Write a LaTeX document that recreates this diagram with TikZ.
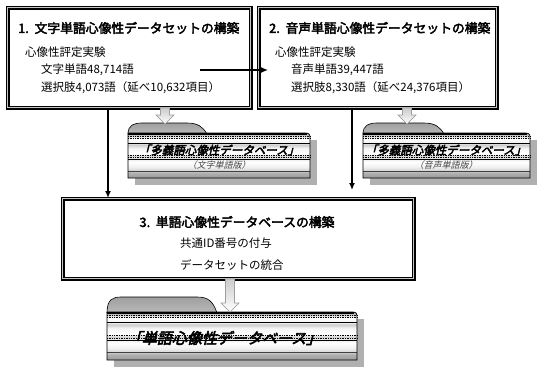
\documentclass[tikz,border=0pt]{standalone}
\usepackage{fontspec}
\setmainfont{Noto Sans CJK JP}
\newfontfamily\jpb{Noto Sans CJK JP}[FakeBold=3]
\newfontfamily\jpbi{Noto Sans CJK JP}[FakeBold=3.5,FakeSlant=0.25]
\newfontfamily\jpi{Noto Sans CJK JP}[FakeSlant=0.25]
\usetikzlibrary{arrows.meta}

\pgfdeclareverticalshading{dbshade}{100bp}{color(0bp)=(gray!80); color(25bp)=(gray!80); color(31bp)=(gray!60); color(33bp)=(gray!35); color(37bp)=(gray!12); color(43bp)=(white); color(47bp)=(gray!20); color(49bp)=(gray!35); color(52bp)=(white); color(58bp)=(gray!8); color(62bp)=(gray!40); color(64bp)=(gray!10); color(69bp)=(white); color(73bp)=(gray!50); color(75bp)=(gray!70); color(100bp)=(gray!70)}

% x0 x1 tabRight tabTop bodyTop bottom
\newcommand{\dbshape}[6]{%
  \fill[gray!62] (#1+7,#5+7) rectangle (#2+7,#6+7);
  \shade[top color=gray!75, bottom color=gray!55] (#1,#5+1) .. controls (#1,#4+2) and (#1+6,#4) .. (#1+14,#4) -- (#3-16,#4) .. controls (#3-5,#4) and (#3,#4+4) .. (#3+4,#5+1) -- cycle;
  \draw[line width=0.6pt] (#1,#5+1) .. controls (#1,#4+2) and (#1+6,#4) .. (#1+14,#4) -- (#3-16,#4) .. controls (#3-5,#4) and (#3,#4+4) .. (#3+4,#5+1);
  \shade[shading=dbshade] (#1,#5) -- (#2-5,#5) .. controls (#2-1,#5) and (#2,#5+1) .. (#2,#5+5) -- (#2,#6) -- (#1,#6) -- cycle;
  \draw[line width=1.2pt] (#1,#5+1) -- (#2-3,#5+1);
  \draw[line width=0.9pt, dash pattern=on 1pt off 0.7pt] (#1,#5+3) -- (#2,#5+3);
  \draw[line width=0.9pt, dash pattern=on 1pt off 0.7pt] (#1,#5+5) -- (#2,#5+5);
  \draw[line width=0.5pt] (#1,#5+10) -- (#2,#5+10);
  \draw[line width=0.8pt, dash pattern=on 1pt off 0.7pt] (#1,{#5+0.49*(#6-#5)}) -- (#2,{#5+0.49*(#6-#5)});
  \draw[line width=0.8pt, dash pattern=on 1pt off 0.7pt] (#1,{#5+0.54*(#6-#5)}) -- (#2,{#5+0.54*(#6-#5)});
  \draw[line width=0.6pt] (#1,{#5+0.59*(#6-#5)}) -- (#2,{#5+0.59*(#6-#5)});
  \draw[line width=0.4pt, gray!50!black] (#1,{#5+0.84*(#6-#5)}) -- (#2,{#5+0.84*(#6-#5)});
  \draw[line width=0.7pt] (#1,#5) -- (#2-5,#5) .. controls (#2-1,#5) and (#2,#5+1) .. (#2,#5+5) -- (#2,#6) -- (#1,#6) -- cycle;
}
% x ytop ytip
\newcommand{\hollowarrow}[3]{%
  \filldraw[draw=gray!75, line width=0.6pt, top color=gray!40, bottom color=white]
    (#1-4.5,#2) -- (#1+4.5,#2) -- (#1+4.5,#3-9) -- (#1+9,#3-9) -- (#1,#3) -- (#1-9,#3-9) -- (#1-4.5,#3-9) -- cycle;
}

\tikzset{
  bigbox/.style={draw=black, line width=1.5pt, double=gray!45, double distance=0.8pt, fill=white, inner sep=0pt, anchor=north west},
  txt/.style={inner sep=0pt, anchor=west, font=\fontsize{11.5}{13}\selectfont},
  ttl/.style={inner sep=0pt, anchor=west, font=\jpb\fontsize{12.8}{14}\selectfont},
  conn/.style={line width=1.3pt, -{Latex[length=7pt,width=6pt]}},
  dbtitle/.style={inner sep=0pt, font=\jpbi\fontsize{11.5}{13}\selectfont},
  dbsub/.style={inner sep=0pt, text=gray!55!black, font=\jpi\fontsize{9}{11}\selectfont}
}

\begin{document}
\begin{tikzpicture}[x=1pt,y=-1pt]
\useasboundingbox (0,0) rectangle (548,370);
\fill[white] (0,0) rectangle (548,370);

% boxes
\node[bigbox, minimum width=243pt, minimum height=100pt] (b1) at (7,7) {};
\node[bigbox, minimum width=238pt, minimum height=100pt] (b2) at (258,7) {};
\node[bigbox, minimum width=351pt, minimum height=80pt] (b3) at (62,198) {};

% box 1 texts
\node[ttl] (t1) at (18,28) {1.\ \ 文字単語心像性データセットの構築};
\node[txt] (t1a) at (25,52) {心像性評定実験};
\node[txt] (t1b) at (41,70) {文字単語48,714語};
\node[txt] (t1c) at (41,88) {選択肢4,073語（延べ10,632項目）};

% box 2 texts
\node[ttl] (t2) at (269,28) {2.\ \ 音声単語心像性データセットの構築};
\node[txt] (t2a) at (275,52) {心像性評定実験};
\node[txt] (t2b) at (291,70) {音声単語39,447語};
\node[txt] (t2c) at (291,88) {選択肢8,330語（延べ24,376項目）};

% box 3 texts
\node[ttl, anchor=center] (t3) at (237,222) {3.\ \ 単語心像性データベースの構築};
\node[txt] (t3a) at (180,243) {共通ID番号の付与};
\node[txt] (t3b) at (180,265) {データセットの統合};

% databases
\dbshape{128}{310}{203}{123}{133}{178}
\dbshape{363}{530}{440}{123}{133}{178}
\dbshape{107}{357}{213}{297}{312}{360}

\node[dbtitle] (d1) at (219,150) {「多義語心像性データベース」};
\node[dbsub] (d1s) at (219,165.5) {（文字単語版）};
\node[dbtitle] (d2) at (446,150) {「多義語心像性データベース」};
\node[dbsub] (d2s) at (446,165.5) {（音声単語版）};
\node[dbtitle, font=\jpbi\fontsize{15}{17}\selectfont] (d3) at (224,338) {「単語心像性データベース」};

% hollow arrows
\hollowarrow{165}{108}{124}
\hollowarrow{407}{108}{124}
\hollowarrow{230}{279}{312}

% connectors
\coordinate (h1) at (200,70);
\coordinate (h2) at (268,70);
\draw[conn] (h1) -- (h2);
\coordinate (v1) at (108,0);
\draw[conn] (v1 |- b1.south) -- (v1 |- b3.north);
\coordinate (v2) at (352,190);
\draw[conn] (v2 |- b2.south) -- (v2);
\end{tikzpicture}
\end{document}
